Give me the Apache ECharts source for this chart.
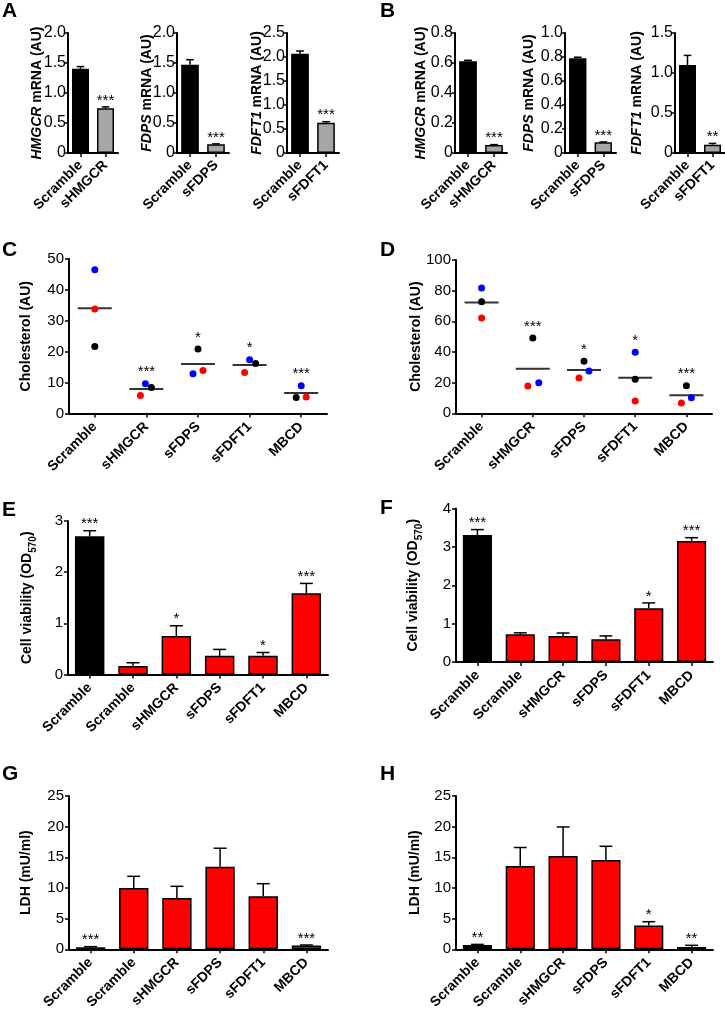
<!DOCTYPE html>
<html>
<head>
<meta charset="utf-8">
<script src="https://cdn.jsdelivr.net/npm/echarts@6/dist/echarts.min.js"></script>
<style>html,body{margin:0;padding:0;background:#fff}#c{width:725px;height:1010px}</style>
</head>
<body>
<div id="c"></div>
<script>
// ---------- DATA ----------
const catsA1 = ['Scramble', 'sHMGCR'];
const catsA2 = ['Scramble', 'sFDPS'];
const catsA3 = ['Scramble', 'sFDFT1'];
const aHMGCR = [1.405, 0.744], aHMGCRsd = [0.035, 0.025], aHMGCRsig = ['', '***'];
const aFDPS = [1.47, 0.144], aFDPSsd = [0.085, 0.008], aFDPSsig = ['', '***'];
const aFDFT1 = [2.07, 0.632], aFDFT1sd = [0.055, 0.02], aFDFT1sig = ['', '***'];
const bHMGCR = [0.611, 0.053], bHMGCRsd = [0.007, 0.003], bHMGCRsig = ['', '***'];
const bFDPS = [0.79, 0.089], bFDPSsd = [0.008, 0.003], bFDPSsig = ['', '***'];
const bFDFT1 = [1.10, 0.104], bFDFT1sd = [0.12, 0.016], bFDFT1sig = ['', '**'];

const cats5 = ['Scramble', 'sHMGCR', 'sFDPS', 'sFDFT1', 'MBCD'];
const cBlue = [46.5, 9.6, 12.9, 17.4, 9.0];
const cRed = [33.8, 5.8, 13.9, 13.3, 5.35];
const cBlack = [21.7, 8.4, 20.9, 16.2, 5.2];
const cMean = [34.1, 7.95, 16.05, 15.7, 6.6];
const cSig = ['', '***', '*', '*', '***'];
const dBlue = [81.7, 20.0, 27.6, 39.8, 10.2];
const dRed = [62.2, 17.8, 23.0, 8.0, 6.7];
const dBlack = [72.8, 49.1, 33.9, 22.2, 18.0];
const dMean = [72.2, 29.1, 28.3, 23.2, 11.7];
const dSig = ['', '***', '*', '*', '***'];

const cats6 = ['Scramble', 'Scramble', 'sHMGCR', 'sFDPS', 'sFDFT1', 'MBCD'];
const eMean = [2.70, 0.165, 0.753, 0.365, 0.365, 1.59];
const eSd = [0.11, 0.065, 0.20, 0.125, 0.065, 0.19];
const eSig = ['***', '', '*', '', '*', '***'];
const fMean = [3.31, 0.72, 0.68, 0.59, 1.40, 3.15];
const fSd = [0.14, 0.04, 0.075, 0.09, 0.14, 0.09];
const fSig = ['***', '', '', '', '*', '***'];
const gMean = [0.33, 10.0, 8.37, 13.48, 8.64, 0.6];
const gSd = [0.1, 1.9, 1.9, 3.0, 2.06, 0.1];
const gSig = ['***', '', '', '', '', '***'];
const hMean = [0.7, 13.6, 15.2, 14.57, 3.9, 0.38];
const hSd = [0.1, 3.0, 4.75, 2.23, 0.6, 0.27];
const hSig = ['**', '', '', '', '*', '**'];

// ---------- STYLE ----------
const FONT = "'Liberation Sans', Arial, Helvetica, sans-serif";
const BLACK = '#000000', GRAY = '#a6a6a6', RED = '#ff0000', BLUE = '#0000ff';
const twoColors = [BLACK, GRAY];
const sixColors = [BLACK, RED, RED, RED, RED, RED];
// horizontal jitter of replicate dots (px)
const cJit = { blue: [0, -1, -5, 0, 0], red: [0, -6, 5, -5, 5], black: [0, 5, 0, 6, -5] };
const dJit = { blue: [0, 6, 5, 0, 5], red: [0, -5, -5, 0, -5], black: [0, 0, 0, 0, 0] };

const grids = [], xAxes = [], yAxes = [], series = [];

function fmtNum(dec) {
  return v => (v === 0 ? '0' : v.toFixed(dec));
}

function addAxes(grid, cats, y) {
  const i = grids.length;
  grids.push(Object.assign({ containLabel: false, outerBoundsMode: 'none' }, grid));
  xAxes.push({
    type: 'category', gridIndex: i, data: cats,
    axisLine: { lineStyle: { color: BLACK, width: 2 } },
    axisTick: { show: true, alignWithLabel: true, length: 4, lineStyle: { color: BLACK, width: 1.5 } },
    axisLabel: { rotate: 45, interval: 0, fontWeight: 'bold', fontSize: y.catFont || 14, color: BLACK, margin: y.catMargin || 11, fontFamily: FONT },
    splitLine: { show: false }
  });
  yAxes.push({
    type: 'value', gridIndex: i, min: 0, max: y.max, interval: y.interval,
    axisLine: { show: true, lineStyle: { color: BLACK, width: 2 } },
    axisTick: { show: true, length: y.tickLen || 4, lineStyle: { color: BLACK, width: 1.5 } },
    axisLabel: { fontSize: y.tickFont || 15, color: BLACK, margin: y.tickMargin || 5, fontFamily: FONT, formatter: fmtNum(y.dec || 0) },
    splitLine: { show: false },
    name: y.name, nameLocation: 'middle', nameRotate: 90, nameGap: y.gap, nameMoveOverlap: false,
    nameTextStyle: Object.assign({ fontSize: 14, fontWeight: 'bold', color: BLACK, fontFamily: FONT }, y.nameStyle || {})
  });
  return i;
}

function errSeries(i, means, sds, sig, starFont) {
  return {
    type: 'custom', xAxisIndex: i, yAxisIndex: i, z: 5, silent: true,
    data: means.map((m, k) => [k, m, m + sds[k]]),
    encode: { x: 0, y: 2 },
    renderItem: function (params, api) {
      const k = api.value(0);
      const base = api.coord([k, api.value(1)]);
      const top = api.coord([k, api.value(2)]);
      const cw = api.size([1, 0])[0] * 0.3;
      const st = { stroke: BLACK, lineWidth: 1.5 };
      const ch = [
        { type: 'line', shape: { x1: base[0], y1: base[1], x2: top[0], y2: top[1] }, style: st },
        { type: 'line', shape: { x1: top[0] - cw / 2, y1: top[1], x2: top[0] + cw / 2, y2: top[1] }, style: st }
      ];
      const s = sig[params.dataIndex];
      if (s) ch.push({ type: 'text', style: { text: s, x: top[0], y: top[1] + 1, align: 'center', verticalAlign: 'bottom', fontSize: starFont || 15, fontFamily: FONT, fill: BLACK } });
      return { type: 'group', children: ch };
    }
  };
}

function barPanel(grid, cats, means, sds, colors, sig, y) {
  const i = addAxes(grid, cats, y);
  series.push({
    type: 'bar', xAxisIndex: i, yAxisIndex: i, barWidth: '68%', z: 3,
    data: means.map((v, k) => ({ value: v, itemStyle: { color: colors[k] } })),
    itemStyle: { borderColor: BLACK, borderWidth: 1.5 }
  });
  series.push(errSeries(i, means, sds, sig, y.starFont));
}

function dotPanel(grid, cats, blue, red, black, mean, sig, jit, y) {
  const i = addAxes(grid, cats, y);
  series.push({
    type: 'scatter', xAxisIndex: i, yAxisIndex: i, symbol: 'rect', symbolSize: [34, 2], z: 2,
    itemStyle: { color: BLACK }, data: mean.map((v, k) => [k, v])
  });
  [[blue, BLUE, jit.blue], [red, RED, jit.red], [black, BLACK, jit.black]].forEach(([vals, col, jj]) => {
    series.push({
      type: 'scatter', xAxisIndex: i, yAxisIndex: i, symbolSize: 7, z: 4,
      itemStyle: { color: col, opacity: 1 },
      data: vals.map((v, k) => ({ value: [k, v], symbolOffset: [jj[k], 0] }))
    });
  });
  series.push({
    type: 'custom', xAxisIndex: i, yAxisIndex: i, z: 5, silent: true,
    data: cats.map((c, k) => [k, Math.max(blue[k], red[k], black[k])]),
    renderItem: function (params, api) {
      const p = api.coord([api.value(0), api.value(1)]);
      const s = sig[params.dataIndex];
      if (!s) return null;
      return { type: 'text', style: { text: s, x: p[0], y: p[1] - 4, align: 'center', verticalAlign: 'bottom', fontSize: 15, fontFamily: FONT, fill: BLACK } };
    }
  });
}

const richA = (gene) => ({
  name: '{i|' + gene + '}{n| mRNA (AU)}',
  nameStyle: { rich: {
    i: { fontStyle: 'italic', fontWeight: 'bold', fontSize: 14, fontFamily: FONT, color: BLACK },
    n: { fontWeight: 'bold', fontSize: 14, fontFamily: FONT, color: BLACK }
  } }
});
const abCfg = { tickFont: 16, catFont: 14, tickMargin: 2, tickLen: 3, catMargin: 10, dec: 1 };

// Panel A
barPanel({ left: 68, top: 33, width: 50, height: 120 }, catsA1, aHMGCR, aHMGCRsd, twoColors, aHMGCRsig,
  Object.assign({ max: 2, interval: 0.5, gap: 24 }, abCfg, richA('HMGCR')));
barPanel({ left: 177, top: 33, width: 52, height: 120 }, catsA2, aFDPS, aFDPSsd, twoColors, aFDPSsig,
  Object.assign({ max: 2, interval: 0.5, gap: 23 }, abCfg, richA('FDPS')));
barPanel({ left: 287, top: 33, width: 52, height: 120 }, catsA3, aFDFT1, aFDFT1sd, twoColors, aFDFT1sig,
  Object.assign({ max: 2.5, interval: 0.5, gap: 23 }, abCfg, richA('FDFT1')));
// Panel B
barPanel({ left: 455, top: 33, width: 52, height: 120 }, catsA1, bHMGCR, bHMGCRsd, twoColors, bHMGCRsig,
  Object.assign({ max: 0.8, interval: 0.2, gap: 27 }, abCfg, richA('HMGCR')));
barPanel({ left: 565, top: 33, width: 51, height: 120 }, catsA2, bFDPS, bFDPSsd, twoColors, bFDPSsig,
  Object.assign({ max: 1.0, interval: 0.2, gap: 29 }, abCfg, richA('FDPS')));
barPanel({ left: 675, top: 33, width: 50, height: 120 }, catsA3, bFDFT1, bFDFT1sd, twoColors, bFDFT1sig,
  Object.assign({ max: 1.5, interval: 0.5, gap: 31 }, abCfg, richA('FDFT1')));
// Panel C / D
dotPanel({ left: 69, top: 259, width: 258, height: 154.5 }, cats5, cBlue, cRed, cBlack, cMean, cSig, cJit,
  { max: 50, interval: 10, gap: 36, name: 'Cholesterol (AU)' });
dotPanel({ left: 456, top: 260, width: 256, height: 153.3 }, cats5, dBlue, dRed, dBlack, dMean, dSig, dJit,
  { max: 100, interval: 20, gap: 33, name: 'Cholesterol (AU)' });
// Panel E / F
const cellName = {
  name: '{b|Cell viability (OD}{s|570}{b|)}',
  nameStyle: { rich: {
    b: { fontWeight: 'bold', fontSize: 14, lineHeight: 18, verticalAlign: 'top', fontFamily: FONT, color: BLACK },
    s: { fontWeight: 'bold', fontSize: 10, lineHeight: 10, verticalAlign: 'bottom', fontFamily: FONT, color: BLACK }
  } }
};
barPanel({ left: 68, top: 521, width: 260, height: 153.5 }, cats6, eMean, eSd, sixColors, eSig,
  Object.assign({ max: 3, interval: 1, gap: 30 }, cellName));
barPanel({ left: 456, top: 508.5, width: 257, height: 153.5 }, cats6, fMean, fSd, sixColors, fSig,
  Object.assign({ max: 4, interval: 1, gap: 32 }, cellName));
// Panel G / H
barPanel({ left: 69, top: 796, width: 259, height: 153.3 }, cats6, gMean, gSd, sixColors, gSig,
  { max: 25, interval: 5, gap: 36, name: 'LDH (mU/ml)' });
barPanel({ left: 456, top: 796, width: 257, height: 153.3 }, cats6, hMean, hSd, sixColors, hSig,
  { max: 25, interval: 5, gap: 34, name: 'LDH (mU/ml)' });

const letters = [['A', 2, 1], ['B', 380, 1], ['C', 2, 240], ['D', 380, 240], ['E', 2, 500], ['F', 380, 498], ['G', 2, 764], ['H', 380, 764]];

const chart = echarts.init(document.getElementById('c'), null, { renderer: 'canvas' });
chart.setOption({
  animation: false,
  backgroundColor: '#ffffff',
  textStyle: { fontFamily: FONT },
  title: letters.map(([t, l, tp]) => ({ text: t, left: l, top: tp, padding: 0, textStyle: { fontSize: 21, fontWeight: 'bold', color: BLACK, fontFamily: FONT } })),
  grid: grids, xAxis: xAxes, yAxis: yAxes, series: series
});
</script>
</body>
</html>
